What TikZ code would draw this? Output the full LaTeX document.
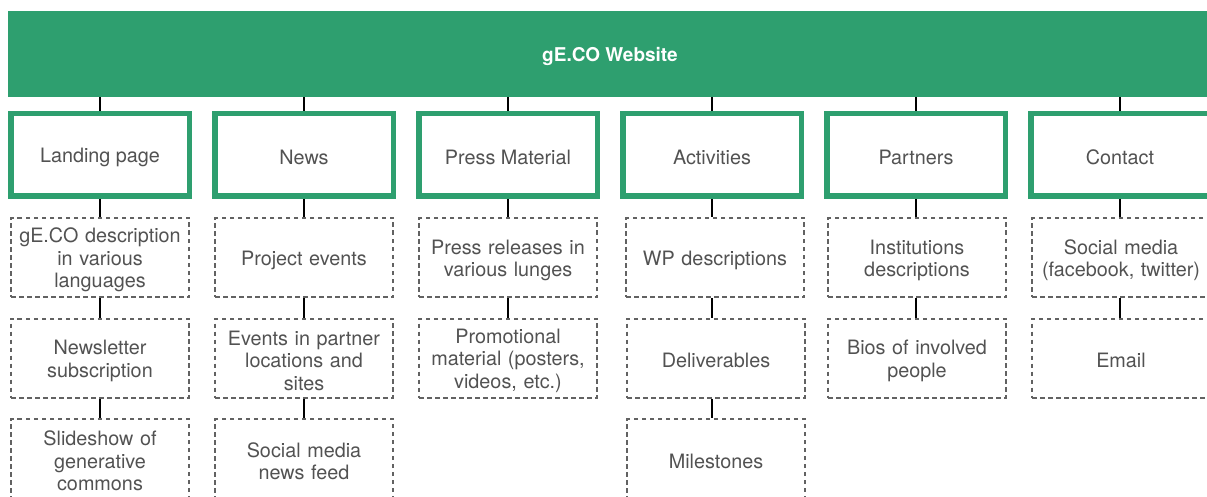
\documentclass[tikz,border=0pt]{standalone}
\usepackage{fontspec}
\setmainfont{TeX Gyre Heros}
\usepackage{xcolor}
\definecolor{gecogreen}{RGB}{46,159,111}
\definecolor{textgray}{RGB}{82,82,82}
\definecolor{dashgray}{RGB}{98,98,98}

\begin{document}
\begin{tikzpicture}[x=1pt, y=-1pt,
		section/.style={draw=gecogreen, line width=5.5pt, fill=white, inner sep=0pt,
			minimum width=178.5pt, minimum height=82.5pt, text=textgray,
			font=\fontsize{19.8}{22.5}\selectfont, execute at begin node={\rule{0pt}{20pt}}},
		subpage/.style={draw=dashgray, line width=2pt, dash pattern=on 4.5pt off 3.5pt,
			inner sep=0pt, minimum width=178pt, minimum height=79pt, text width=172pt, align=center,
			text=textgray, font=\fontsize{19.8}{22.5}\selectfont,
			execute at begin node={\rule{0pt}{20pt}}},
		link/.style={line width=2pt, black}]
				\clip (0,0) rectangle (1207,497);
				
				\node [fill=gecogreen, inner sep=0pt, minimum width=1204pt, minimum height=86pt, text=white, font=\bfseries\fontsize{19}{22}\selectfont, execute at begin node={\rule{0pt}{20pt}}] (site) at (610,54) {gE.CO Website};
				
				% sections
				\node [section] (land) at (100,155) {Landing page};
				\node [section] (news) at (304,155) {News};
				\node [section] (press) at (508,155) {Press Material};
				\node [section] (activ) at (712,155) {Activities};
				\node [section] (partn) at (916,155) {Partners};
				\node [section] (cont) at (1120,155) {Contact};
				
				\draw [link] (site.south -| land) -- (land.north);
				\draw [link] (site.south -| news) -- (news.north);
				\draw [link] (site.south -| press) -- (press.north);
				\draw [link] (site.south -| activ) -- (activ.north);
				\draw [link] (site.south -| partn) -- (partn.north);
				\draw [link] (site.south -| cont) -- (cont.north);
				
				% landing page
				\node [subpage] (land1) at (100,257.5) {gE.CO description\\in various\\languages};
				\node [subpage] (land2) at (100,358) {Newsletter\\subscription};
				\node [subpage] (land3) at (100,458.5) {Slideshow of\\generative\\commons};
				\draw [link] (land) -- (land1);
				\draw [link] (land1) -- (land2);
				\draw [link] (land2) -- (land3);
				
				% news
				\node [subpage] (news1) at (304,257.5) {Project events};
				\node [subpage] (news2) at (304,358) {Events in partner\\locations and\\sites};
				\node [subpage] (news3) at (304,458.5) {Social media\\news feed};
				\draw [link] (news) -- (news1);
				\draw [link] (news1) -- (news2);
				\draw [link] (news2) -- (news3);
				
				% press material
				\node [subpage] (press1) at (508,257.5) {Press releases in\\various lunges};
				\node [subpage] (press2) at (508,358) {Promotional\\material (posters,\\videos, etc.)};
				\draw [link] (press) -- (press1);
				\draw [link] (press1) -- (press2);
				
				% activities
				\node [subpage] (activ1) at (715,257.5) {WP descriptions};
				\node [subpage] (activ2) at (716,358) {Deliverables};
				\node [subpage] (activ3) at (716,458.5) {Milestones};
				\draw [link] (activ) -- (activ |- activ1.north);
				\draw [link] (activ1.south -| activ) -- (activ2.north -| activ);
				\draw [link] (activ2.south -| activ) -- (activ3.north -| activ);
				
				% partners
				\node [subpage] (partn1) at (917,257.5) {Institutions\\descriptions};
				\node [subpage] (partn2) at (917,358) {Bios of involved\\people};
				\draw [link] (partn) -- (partn |- partn1.north);
				\draw [link] (partn1.south -| partn) -- (partn2.north -| partn);
				
				% contact
				\node [subpage] (cont1) at (1121,257.5) {Social media\\(facebook, twitter)};
				\node [subpage] (cont2) at (1121,358) {Email};
				\draw [link] (cont) -- (cont |- cont1.north);
				\draw [link] (cont1.south -| cont) -- (cont2.north -| cont);
\end{tikzpicture}
\end{document}
